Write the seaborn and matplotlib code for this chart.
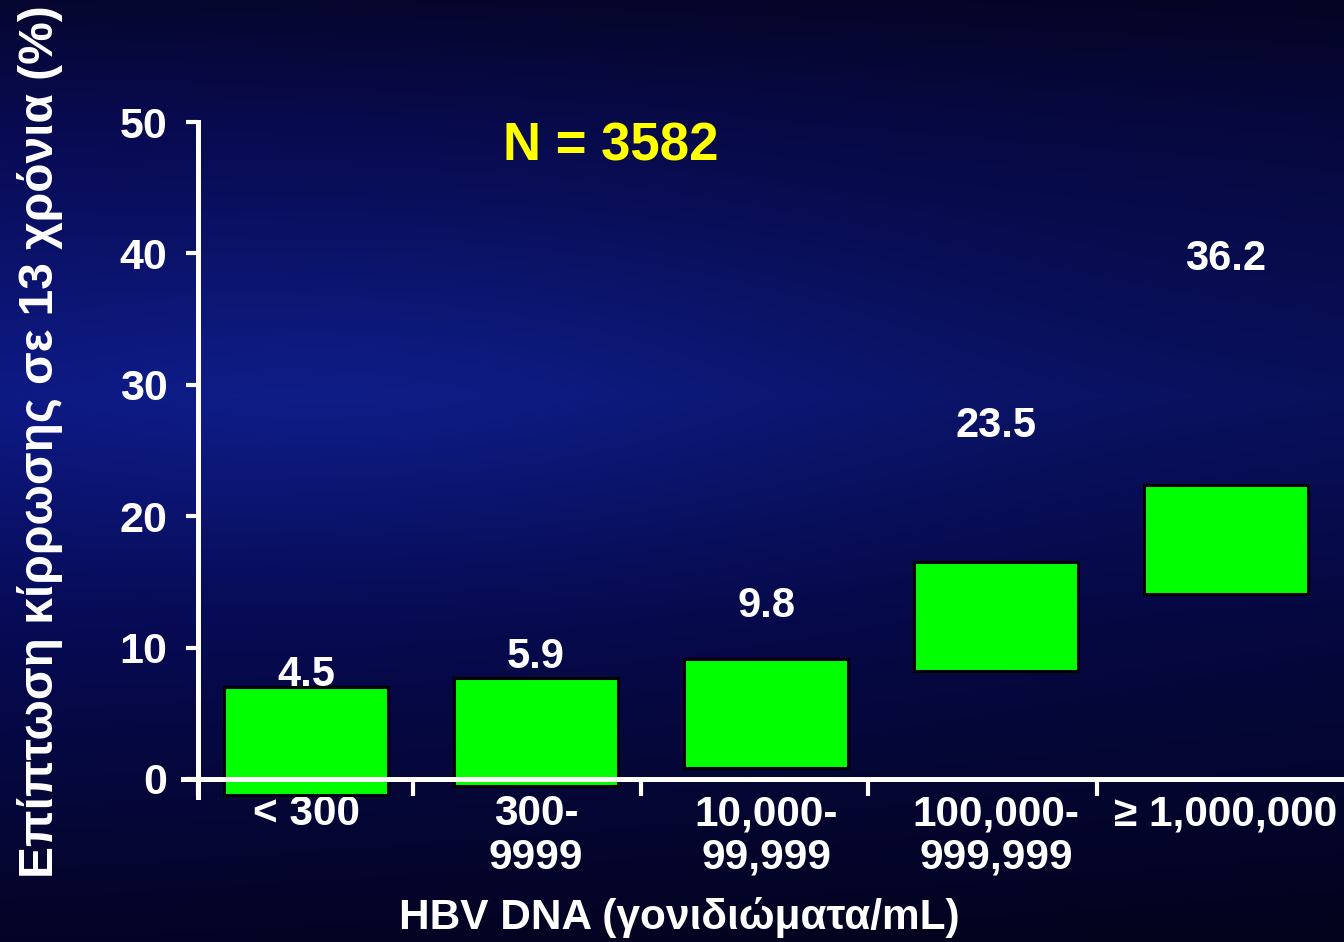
import numpy as np
import pandas as pd
import matplotlib
matplotlib.use("Agg")
import matplotlib.pyplot as plt
import seaborn as sns

# HBV DNA categories and 13-year cirrhosis incidence
categories = ["< 300", "300-\n9999", "10,000-\n99,999", "100,000-\n999,999", "≥ 1,000,000"]
incidence = [4.5, 5.9, 9.8, 23.5, 36.2]
# green boxes: lower and upper edge on the percent scale
box_low = [-1.2, -0.5, 0.85, 8.2, 14.05]
box_high = [7.0, 7.65, 9.1, 16.55, 22.4]
y_ticks = [0, 10, 20, 30, 40, 50]
cohort_label = "N = 3582"

sns.set_theme(style="white")
plt.rcParams["font.family"] = ["Liberation Sans", "DejaVu Sans"]
plt.rcParams["font.weight"] = "bold"

W, H = 1344, 942
fig = plt.figure(figsize=(W / 100, H / 100), dpi=100)

# dark navy slide background with a brighter band in the middle
bg = fig.add_axes([0, 0, 1, 1], zorder=-10)
yy = np.linspace(0, 1, H)[:, None]
xx = np.linspace(0, 1, W)[None, :]
stops = [0.0, 0.13, 0.42, 0.65, 1.0]
r = np.interp(yy, stops, [6, 8, 12, 7, 4])
g = np.interp(yy, stops, [6, 10, 22, 10, 4])
b = np.interp(yy, stops, [48, 80, 122, 85, 38])
blob = np.exp(-(((xx - 0.3) / 0.35) ** 2 + ((yy - 0.42) / 0.2) ** 2))
shade = 1.0 - 0.25 * xx
img = np.dstack([
    (r * shade + 3 * blob),
    (g * shade + 8 * blob),
    (b * shade + 20 * blob),
]) / 255.0
bg.imshow(np.clip(img, 0, 1), aspect="auto", extent=[0, 1, 0, 1], origin="upper")
bg.set_axis_off()

ax = fig.add_axes([183 / W, 1 - 800 / H, (W - 183) / W, 678 / H])
ax.patch.set_alpha(0)

df = pd.DataFrame({
    "cat": categories,
    "span": np.array(box_high) - np.array(box_low),
    "low": box_low,
})
sns.barplot(data=df, x="cat", y="span", order=categories, color="#00ff00",
            saturation=1, width=0.713, errorbar=None,
            edgecolor="black", linewidth=2.2, ax=ax, zorder=3)
for patch, lo in zip(ax.patches, df["low"]):
    patch.set_y(lo)

ax.set_xlim(-0.535, 4.513)
ax.set_ylim(-1.6, 50)

white = "white"
for s in ["top", "right"]:
    ax.spines[s].set_visible(False)
ax.spines["left"].set_position(("data", -0.47))
ax.spines["left"].set_bounds(-1.35, 50)
ax.spines["bottom"].set_position(("data", 0))
for s in ["left", "bottom"]:
    ax.spines[s].set_color(white)
    ax.spines[s].set_linewidth(3.6)
    ax.spines[s].set_zorder(5)

ax.set_yticks(y_ticks)
ax.set_yticklabels([str(t) for t in y_ticks])
ax.tick_params(axis="y", direction="out", length=9, width=3, color=white,
               labelcolor=white, labelsize=31, pad=13, left=True)

# category labels at bar centres, separator ticks between groups
ax.set_xticks(range(len(categories)))
ax.set_xticklabels(categories, linespacing=1.12)
ax.tick_params(axis="x", which="major", length=0, labelcolor=white,
               labelsize=30.5, pad=11)
ax.set_xticks([-0.47, 0.465, 1.455, 2.445, 3.44], minor=True)
ax.tick_params(axis="x", which="minor", direction="out", length=12, width=3,
               color=white, bottom=True)
for lab in ax.get_xticklabels() + ax.get_yticklabels():
    lab.set_fontweight("bold")

ax.set_xlabel("")
ax.set_ylabel("")

for i, v in enumerate(incidence):
    ax.text(i, v + 3.4, f"{v:.1f}", ha="center", va="center", color=white,
            fontsize=30, fontweight="bold", zorder=6)

ax.text(0.3686, 0.9646, cohort_label, transform=ax.transAxes, ha="center",
        va="center", color="#ffff00", fontsize=38, fontweight="bold")

fig.text(40 / W, 1 - 442 / H, "Επίπτωση κίρρωσης σε 13 χρόνια (%)",
         rotation=90, ha="center", va="center", color=white, fontsize=34.5,
         fontweight="bold")
fig.text(679 / W, 1 - 918 / H, "HBV DNA (γονιδιώματα/mL)", ha="center",
         va="center", color=white, fontsize=30.5, fontweight="bold")

fig.savefig("out.png", dpi=100)
